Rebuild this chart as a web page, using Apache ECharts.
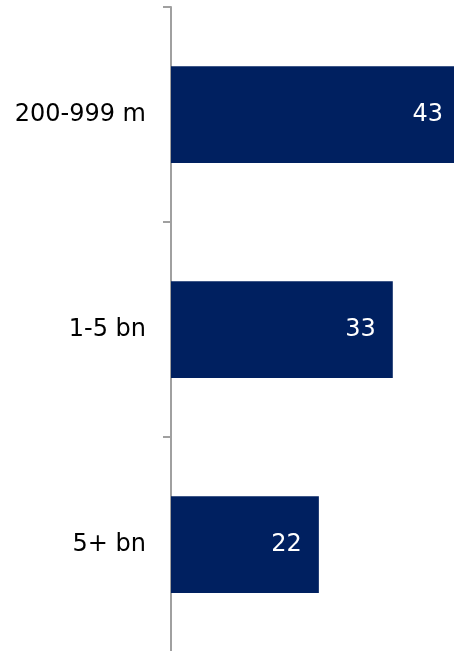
<!DOCTYPE html>
<html><head><meta charset="utf-8">
<script src="https://cdn.jsdelivr.net/npm/echarts@6/dist/echarts.min.js"></script>
<style>html,body{margin:0;padding:0;background:#fff;overflow:hidden;width:454px;height:651px}#c{width:460px;height:654px}</style>
</head><body><div id="c"></div>
<script>
const categories = ["200-999 m", "1-5 bn", "5+ bn"];
const values = [43, 33, 22];
const axisMax = 43;

const chart = echarts.init(document.getElementById('c'), null, {renderer: 'canvas'});
chart.setOption({
  animation: false,
  grid: {left: 171, top: 7, right: 0, bottom: 2, containLabel: false},
  xAxis: {type: 'value', min: 0, max: axisMax, show: false},
  yAxis: {
    type: 'category', data: categories, inverse: true,
    axisLine: {show: true, lineStyle: {color: '#a0a0a0', width: 2}},
    axisTick: {show: true, length: 8, lineStyle: {color: '#a0a0a0', width: 2}},
    axisLabel: {margin: 25, color: '#000', fontSize: 24, fontFamily: 'DejaVu Sans'}
  },
  series: [{
    type: 'bar', data: values, barCategoryGap: '55%',
    itemStyle: {color: '#002060'},
    label: {show: true, position: 'insideRight', distance: 17, color: '#fff', fontSize: 24, fontFamily: 'DejaVu Sans'}
  }]
});
</script></body></html>
